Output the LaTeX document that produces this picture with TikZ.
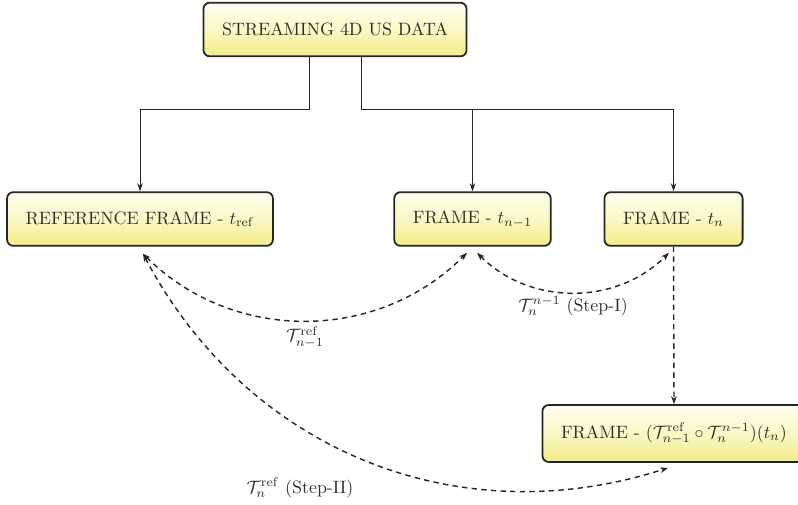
\documentclass[tikz,border=0pt]{standalone}
\usetikzlibrary{arrows.meta,calc}
\definecolor{boxtop}{HTML}{FFFEF0}
\definecolor{boxmid}{HTML}{FBF7C6}
\definecolor{boxbot}{HTML}{F3EC86}
\definecolor{ink}{HTML}{2E2E2E}
\begin{document}
\begin{tikzpicture}[x=0.5587pt,y=-0.5587pt,
  framebox/.style={draw=black!85, line width=1pt, rounded corners=3.5pt,
    top color=boxtop, bottom color=boxbot, middle color=boxmid,
    text=ink, inner xsep=10.4pt, inner ysep=10pt, minimum height=30pt},
  feed/.style={draw=black!85, line width=0.5pt, -{Stealth[length=4.5pt,width=3pt]}},
  link/.style={draw=black!85, line width=0.8pt, dash pattern=on 3pt off 2.4pt,
    {Stealth[length=4.5pt,width=3.2pt]}-{Stealth[length=4.5pt,width=3.2pt]}},
  linkone/.style={draw=black!85, line width=0.8pt, dash pattern=on 3pt off 2.4pt,
    -{Stealth[length=4.5pt,width=3.2pt]}},
  lbl/.style={text=ink, inner sep=0pt}]

\useasboundingbox (0,0) rectangle (798,505);

% frames
\node[framebox] (top)  at (335,29.5)  {STREAMING 4D US DATA};
\node[framebox] (ref)  at (140,219)   {REFERENCE FRAME - $t_{\mathrm{ref}}$};
\node[framebox] (prev) at (472.5,219) {FRAME - $t_{n-1}$};
\node[framebox] (cur)  at (673.5,219) {FRAME - $t_n$};
\node[framebox] (comp) at (674,433.5) {FRAME - $(\mathcal{T}_{n-1}^{\mathrm{ref}}\circ\mathcal{T}_n^{n-1})(t_n)$};

% data stream feeding the frames
\coordinate (bus) at (0,109);
\draw[feed] ($(top.south)+(-26,0)$) |- (ref.north |- bus) -- (ref.north);
\draw[feed] ($(top.south)+(26,0)$) |- (cur.north |- bus) -- (cur.north);
\draw[feed] (prev.north |- bus) -- (prev.north);

% registrations between frames
\draw[link] ($(ref.south)+(3,7)$) to[bend right=45] ($(prev.south)+(-5.5,6)$);
\draw[link] ($(prev.south)+(4.5,6)$) to[bend right=45] ($(cur.south)+(-4.5,6)$);
\draw[link] ($(ref.south)+(3,7)$) to[bend right=40] ($(comp.south)+(-6,5)$);
\draw[linkone] (cur.south) -- (comp.north);

% transform labels
\node[lbl] (l1) at (305,337) {$\mathcal{T}_{n-1}^{\mathrm{ref}}$};
\node[lbl] (l2) at (573,306) {$\mathcal{T}_n^{n-1}$ (Step-I)};
\node[lbl] (l3) at (300,488) {$\mathcal{T}_n^{\mathrm{ref}}$ (Step-II)};
\end{tikzpicture}
\end{document}
